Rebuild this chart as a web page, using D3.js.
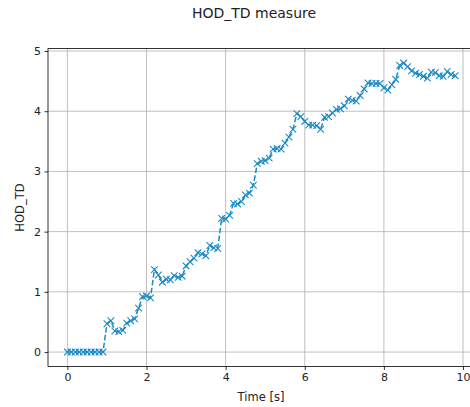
<!DOCTYPE html>
<html>
<head>
<meta charset="utf-8">
<script src="https://cdn.jsdelivr.net/npm/d3@7"></script>
<style>
  body { margin: 0; background: #fff; }
  text { font-family: "DejaVu Sans", sans-serif; fill: #222; }
</style>
</head>
<body>
<svg id="chart" width="470" height="407"></svg>
<script>
// time in seconds, one sample every 0.1 s
const times = [
  0.0, 0.1, 0.2, 0.3, 0.4, 0.5, 0.6, 0.7, 0.8, 0.9,
  1.0, 1.1, 1.2, 1.3, 1.4, 1.5, 1.6, 1.7, 1.8, 1.9,
  2.0, 2.1, 2.2, 2.3, 2.4, 2.5, 2.6, 2.7, 2.8, 2.9,
  3.0, 3.1, 3.2, 3.3, 3.4, 3.5, 3.6, 3.7, 3.8, 3.9,
  4.0, 4.1, 4.2, 4.3, 4.4, 4.5, 4.6, 4.7, 4.8, 4.9,
  5.0, 5.1, 5.2, 5.3, 5.4, 5.5, 5.6, 5.7, 5.8, 5.9,
  6.0, 6.1, 6.2, 6.3, 6.4, 6.5, 6.6, 6.7, 6.8, 6.9,
  7.0, 7.1, 7.2, 7.3, 7.4, 7.5, 7.6, 7.7, 7.8, 7.9,
  8.0, 8.1, 8.2, 8.3, 8.4, 8.5, 8.6, 8.7, 8.8, 8.9,
  9.0, 9.1, 9.2, 9.3, 9.4, 9.5, 9.6, 9.7, 9.8
];
const hodTd = [
  0, 0, 0, 0, 0, 0, 0, 0, 0, 0,
  0.47, 0.52, 0.35, 0.34, 0.36, 0.48, 0.52, 0.55, 0.73, 0.92,
  0.93, 0.90, 1.37, 1.28, 1.16, 1.21, 1.20, 1.27, 1.24, 1.26,
  1.43, 1.50, 1.56, 1.65, 1.63, 1.60, 1.77, 1.73, 1.72, 2.22,
  2.21, 2.27, 2.47, 2.46, 2.50, 2.61, 2.64, 2.77, 3.13, 3.17,
  3.18, 3.22, 3.37, 3.38, 3.37, 3.47, 3.57, 3.70, 3.96, 3.91,
  3.83, 3.77, 3.77, 3.76, 3.70, 3.90, 3.91, 3.97, 4.03, 4.04,
  4.09, 4.20, 4.18, 4.17, 4.26, 4.37, 4.47, 4.46, 4.46, 4.46,
  4.39, 4.35, 4.44, 4.53, 4.76, 4.80, 4.74, 4.67, 4.63, 4.61,
  4.58, 4.55, 4.65, 4.64, 4.59, 4.58, 4.66, 4.61, 4.59
];
const xTicks = [0, 2, 4, 6, 8, 10];
const yTicks = [0, 1, 2, 3, 4, 5];

const svg = d3.select("#chart");
const color = "#1a8ac4";

const x = d3.scaleLinear().domain([-0.49, 10.29]).range([48, 474.5]);
const y = d3.scaleLinear().domain([-0.24, 5.04]).range([366.5, 48.6]);

const data = times.map((t, i) => ({t: t, v: hodTd[i]}));

// grid
svg.append("g")
    .selectAll("line")
    .data(xTicks)
    .join("line")
    .attr("x1", d => x(d)).attr("x2", d => x(d))
    .attr("y1", y.range()[0]).attr("y2", y.range()[1])
    .attr("stroke", "#b0b0b0").attr("stroke-width", 0.8);

svg.append("g")
    .selectAll("line")
    .data(yTicks)
    .join("line")
    .attr("x1", x.range()[0]).attr("x2", x.range()[1])
    .attr("y1", d => y(d)).attr("y2", d => y(d))
    .attr("stroke", "#b0b0b0").attr("stroke-width", 0.8);

// axes
const xAxis = d3.axisBottom(x).tickValues(xTicks).tickSize(3.5).tickPadding(3.5).tickFormat(d3.format("d"));
const yAxis = d3.axisLeft(y).tickValues(yTicks).tickSize(3.5).tickPadding(3.5).tickFormat(d3.format("d"));

const gx = svg.append("g")
    .attr("transform", `translate(0,${y.range()[0]})`)
    .call(xAxis);
const gy = svg.append("g")
    .attr("transform", `translate(${x.range()[0]},0)`)
    .call(yAxis);

[gx, gy].forEach(g => {
    g.select(".domain").remove();
    g.selectAll(".tick line").attr("stroke", "#000").attr("stroke-width", 0.8);
    g.selectAll(".tick text").style("font-family", "DejaVu Sans").style("font-size", "11px").attr("fill", "#222");
});

// spines
svg.append("rect")
    .attr("x", x.range()[0]).attr("y", y.range()[1])
    .attr("width", x.range()[1] - x.range()[0])
    .attr("height", y.range()[0] - y.range()[1])
    .attr("fill", "none").attr("stroke", "#000").attr("stroke-width", 0.8);

// line
const line = d3.line().x(d => x(d.t)).y(d => y(d.v));
svg.append("path")
    .datum(data)
    .attr("d", line)
    .attr("fill", "none")
    .attr("stroke", color)
    .attr("stroke-width", 1.5)
    .attr("stroke-dasharray", "5.5,2.4");

// x markers
const s = 3.3;
svg.append("g")
    .selectAll("path")
    .data(data)
    .join("path")
    .attr("d", d => {
        const cx = x(d.t), cy = y(d.v);
        return `M${cx - s},${cy - s}L${cx + s},${cy + s}M${cx - s},${cy + s}L${cx + s},${cy - s}`;
    })
    .attr("stroke", color)
    .attr("stroke-width", 1.1)
    .attr("fill", "none");

// labels
svg.append("text")
    .attr("x", 254).attr("y", 18)
    .attr("text-anchor", "middle")
    .style("font-size", "14px")
    .text("HOD_TD measure");

svg.append("text")
    .attr("x", 261).attr("y", 401)
    .attr("text-anchor", "middle")
    .style("font-size", "11.5px")
    .text("Time [s]");

svg.append("text")
    .attr("transform", `translate(24,${(y.range()[0] + y.range()[1]) / 2}) rotate(-90)`)
    .attr("text-anchor", "middle")
    .style("font-size", "11.5px")
    .text("HOD_TD");
</script>
</body>
</html>
